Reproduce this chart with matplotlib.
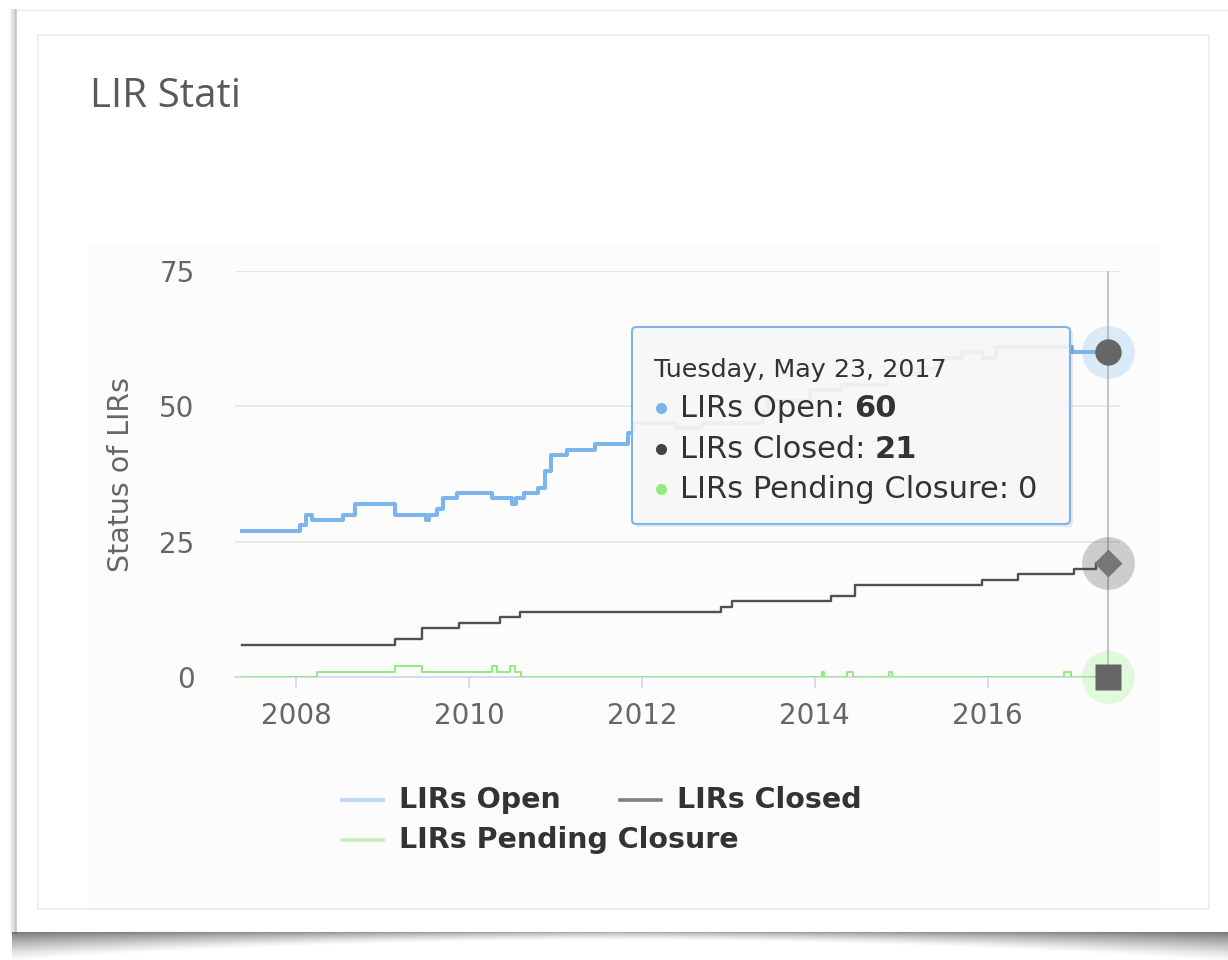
import numpy as np
import matplotlib
matplotlib.use("Agg")
import matplotlib.pyplot as plt
from matplotlib.patches import Rectangle, FancyBboxPatch
from matplotlib.lines import Line2D

plt.rcParams['font.family'] = ['DejaVu Sans']

# ---- data (decimal years where the value changes) ----
open_dates = [2007.38, 2008.05, 2008.12, 2008.18, 2008.54, 2008.68, 2009.14, 2009.50, 2009.54,
              2009.63, 2009.70, 2009.86, 2010.27, 2010.50, 2010.54, 2010.64, 2010.80, 2010.88,
              2010.95, 2011.13, 2011.46, 2011.84, 2011.90, 2012.40, 2012.70, 2013.40, 2013.46,
              2013.95, 2014.30, 2014.84, 2015.20, 2015.45, 2015.70, 2015.95, 2016.10, 2016.97,
              2017.39]
open_vals = [27, 28, 30, 29, 30, 32, 30, 29, 30,
             31, 33, 34, 33, 32, 33, 34, 35, 38,
             41, 42, 43, 45, 47, 46, 47, 49, 51,
             53, 54, 56, 57, 59, 60, 59, 61, 60,
             60]

closed_dates = [2007.38, 2009.14, 2009.46, 2009.89, 2010.36, 2010.59, 2012.92, 2013.04,
                2014.19, 2014.46, 2015.93, 2016.35, 2017.00, 2017.25, 2017.39]
closed_vals = [6, 7, 9, 10, 11, 12, 13, 14, 15, 17, 18, 19, 20, 21, 21]

pending_dates = [2007.38, 2008.24, 2009.14, 2009.46, 2010.27, 2010.33, 2010.48, 2010.53,
                 2010.60, 2014.08, 2014.11, 2014.37, 2014.44, 2014.86, 2014.89, 2016.88,
                 2016.96, 2017.39]
pending_vals = [0, 1, 2, 1, 2, 1, 2, 1, 0, 1, 0, 1, 0, 1, 0, 1, 0, 0]

series_names = ["LIRs Open", "LIRs Closed", "LIRs Pending Closure"]
series_colors = ["#7cb5ec", "#505055", "#90ed7d"]
x_ticks = [2008, 2010, 2012, 2014, 2016]
y_ticks = [0, 25, 50, 75]
tooltip_date = "Tuesday, May 23, 2017"

W, H = 1228, 960


def fx(x):
    return x / W


def fy(y):
    return 1 - y / H


fig = plt.figure(figsize=(W / 100, H / 100), dpi=100)
fig.patch.set_facecolor("white")

# ---- card decoration ----
fig.add_artist(Rectangle((fx(15), fy(932)), 1, (932 - 10) / H, transform=fig.transFigure,
                         facecolor="white", edgecolor="#eeeeee", lw=1, zorder=-10))
fig.add_artist(Line2D([fx(12), fx(12)], [fy(10), fy(932)], transform=fig.transFigure,
                      color="#e4e4e4", lw=2.5, zorder=-9))
fig.add_artist(Line2D([fx(15), fx(15)], [fy(10), fy(932)], transform=fig.transFigure,
                      color="#c9c9c9", lw=2, zorder=-9))
fig.add_artist(Rectangle((fx(38), fy(909)), (1209 - 38) / W, (909 - 35) / H,
                         transform=fig.transFigure, facecolor="white",
                         edgecolor="#ebebeb", lw=1.2, zorder=-8))
fig.add_artist(Rectangle((fx(88), fy(907)), (1160 - 88) / W, (907 - 245) / H,
                         transform=fig.transFigure, facecolor="#fcfcfc",
                         edgecolor="none", zorder=-7))

# curled shadow under the card
sh_h = 28
cols = np.arange(W)
u = np.abs(cols - W / 2) / (W / 2)
thick = 8 + 22 * u ** 2
rows = np.arange(sh_h)[:, None]
alpha = np.clip(1 - rows / thick[None, :], 0, 1) ** 1.3 * (0.38 + 0.35 * u[None, :])
shadow = np.zeros((sh_h, W, 4))
shadow[..., :3] = 0.3
shadow[..., 3] = alpha
shadow[:, :12, 3] = 0
fig.figimage(shadow, xo=0, yo=0, origin="upper", zorder=-6)

fig.text(fx(90), fy(97), "LIR Stati", fontsize=29, color="#595959",
         family="Open Sans", va="center", ha="left")

# ---- chart ----
ax = fig.add_axes([fx(235), fy(677), (1120 - 235) / W, (677 - 271) / H])
ax.patch.set_visible(False)

ax.step(open_dates, open_vals, where="post", color=series_colors[0], lw=2.9, zorder=3)
ax.step(closed_dates, closed_vals, where="post", color=series_colors[1], lw=1.7, zorder=3)
ax.step(pending_dates, pending_vals, where="post", color=series_colors[2], lw=1.4, zorder=3)

ax.set_xlim(2007.295, 2017.53)
ax.set_ylim(0, 75)
ax.set_xticks(x_ticks)
ax.set_xticklabels([str(t) for t in x_ticks])
ax.set_yticks(y_ticks)
ax.tick_params(axis="y", length=0, pad=29, labelsize=20, labelcolor="#666666")
ax.tick_params(axis="x", length=8, width=1.1, color="#ccd6eb", pad=10,
               labelsize=20, labelcolor="#666666")
for s in ["top", "right", "left"]:
    ax.spines[s].set_visible(False)
ax.spines["bottom"].set_color("#ccd6eb")
ax.spines["bottom"].set_linewidth(1.2)
ax.set_axisbelow(True)
ax.yaxis.grid(True, color="#e6e6e6", lw=1.2)
ax.set_ylabel("Status of LIRs", fontsize=20.5, color="#666666")
ax.yaxis.set_label_coords(-0.113, 0.5)

# crosshair and hover markers at the last point
last_x = open_dates[-1]
ax.axvline(last_x, color="#c4c4c4", lw=1.5, zorder=2)
ends = [(open_vals[-1], "o", "#7cb5ec", "#666666", 19),
        (closed_vals[-1], "D", "#434348", "#777777", 14),
        (pending_vals[-1], "s", "#90ed7d", "#666666", 19)]
for val, mk, halo, fill, size in ends:
    ax.plot([last_x], [val], marker="o", ms=38, color=halo, alpha=0.25,
            mec="none", clip_on=False, zorder=5)
    ax.plot([last_x], [val], marker=mk, ms=size, color=fill,
            mec="none", clip_on=False, zorder=6)

# ---- tooltip ----
tx0, tx1, ty0, ty1 = 632, 1070, 327, 524
fig.add_artist(FancyBboxPatch((fx(tx0 + 3), fy(ty1 + 3)), (tx1 - tx0) / W, (ty1 - ty0) / H,
                              boxstyle="round,pad=0,rounding_size=0.004",
                              transform=fig.transFigure, facecolor=(0, 0, 0, 0.08),
                              edgecolor="none", zorder=9))
fig.add_artist(FancyBboxPatch((fx(tx0), fy(ty1)), (tx1 - tx0) / W, (ty1 - ty0) / H,
                              boxstyle="round,pad=0,rounding_size=0.004",
                              transform=fig.transFigure, facecolor=(0.975, 0.975, 0.975, 0.9),
                              edgecolor="#7cb5ec", lw=1.5, zorder=10))
fig.text(fx(654), fy(377), tooltip_date, fontsize=18.3, color="#333333",
         va="baseline", ha="left", zorder=11)

renderer = fig.canvas.get_renderer()
row_vals = [open_vals[-1], closed_vals[-1], pending_vals[-1]]
row_bold = [True, True, False]
for i, (name, col, v, b) in enumerate(zip(series_names, series_colors, row_vals, row_bold)):
    base = 417 + i * 40.5
    fig.add_artist(Line2D([fx(661)], [fy(base - 9)], transform=fig.transFigure,
                          marker="o", ms=8, color="#434348" if i == 1 else col,
                          mec="none", zorder=11))
    t = fig.text(fx(680), fy(base), name + ":", fontsize=22, color="#333333",
                 va="baseline", ha="left", zorder=11)
    bb = t.get_window_extent(renderer)
    fig.text(bb.x1 / W + fx(9), fy(base), str(v), fontsize=22, color="#333333",
             weight="bold" if b else "normal", va="baseline", ha="left", zorder=11)

# ---- legend ----
leg_items = [(342, 800, 0), (620, 800, 1), (342, 840, 2)]
leg_colors = ["#bcd6f4", "#808080", "#c6f0bd"]
for x0, yc, k in leg_items:
    fig.add_artist(Line2D([fx(x0), fx(x0 + 41)], [fy(yc), fy(yc)], transform=fig.transFigure,
                          color=leg_colors[k], lw=2.6))
    fig.text(fx(x0 + 57), fy(yc), series_names[k], fontsize=20.5, weight="bold",
             color="#333333", va="center", ha="left")

fig.savefig("out.png", dpi=100)
